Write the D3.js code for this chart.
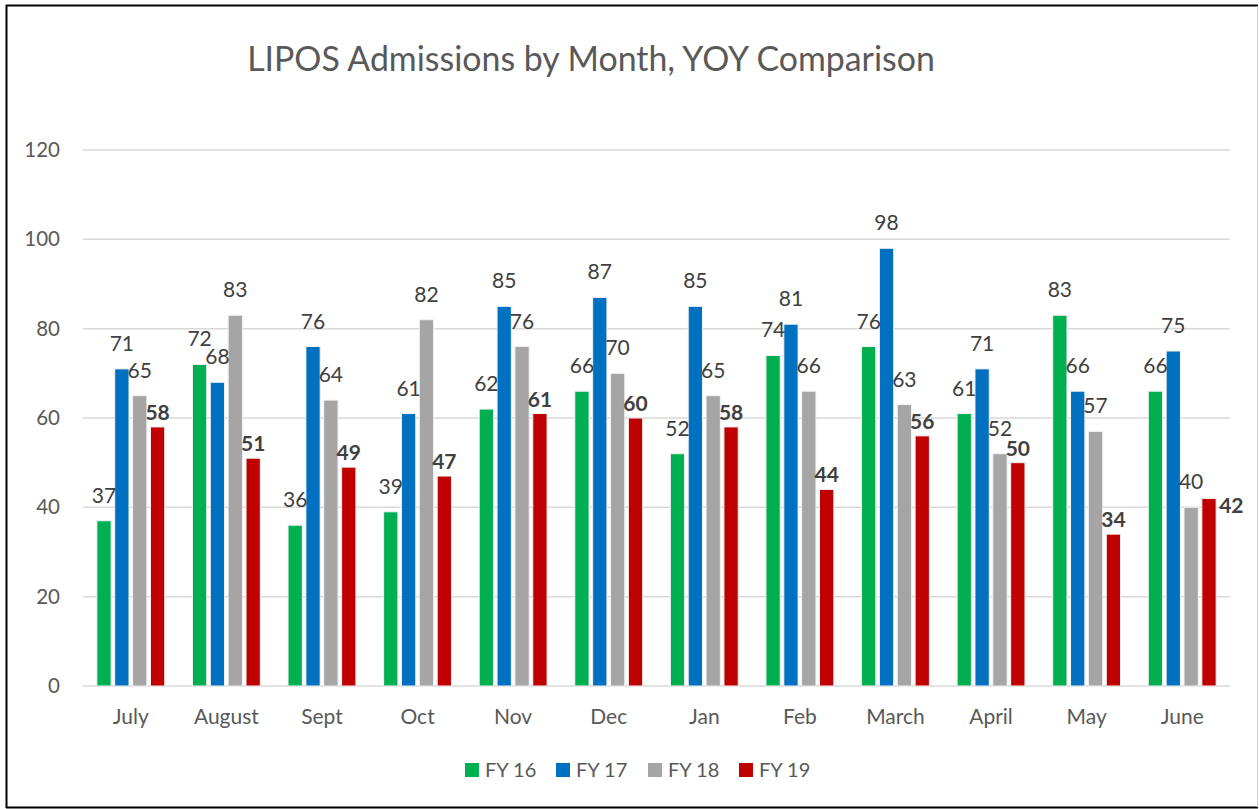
<!DOCTYPE html>
<html>
<head>
<meta charset="utf-8">
<script src="https://cdn.jsdelivr.net/npm/d3@7"></script>
<style>
  html, body { margin: 0; padding: 0; background: #fff; }
  svg { display: block; font-family: Lato, "Open Sans", sans-serif; }
</style>
</head>
<body>
<div id="chart"></div>
<script>
const months = ['July', 'August', 'Sept', 'Oct', 'Nov', 'Dec', 'Jan', 'Feb', 'March', 'April', 'May', 'June'];
const seriesNames = ['FY 16', 'FY 17', 'FY 18', 'FY 19'];
const fy16 = [37, 72, 36, 39, 62, 66, 52, 74, 76, 61, 83, 66];
const fy17 = [71, 68, 76, 61, 85, 87, 85, 81, 98, 71, 66, 75];
const fy18 = [65, 83, 64, 82, 76, 70, 65, 66, 63, 52, 57, 40];
const fy19 = [58, 51, 49, 47, 61, 60, 58, 44, 56, 50, 34, 42];
const yTicks = [0, 20, 40, 60, 80, 100, 120];
const colors = ['#00B050', '#0070C0', '#A5A5A5', '#C00000'];

const W = 1259, H = 809;
const plot = { left: 83, right: 1230, top: 150, bottom: 686 };

const svg = d3.select('#chart').append('svg')
  .attr('width', W)
  .attr('height', H);

// frame
svg.append('rect').attr('width', W).attr('height', H).attr('fill', '#fff');
svg.append('line').attr('x1', 6.5).attr('x2', 6.5).attr('y1', 5).attr('y2', 808).attr('stroke', '#000').attr('stroke-width', 2);
svg.append('line').attr('x1', 6).attr('x2', 1258).attr('y1', 5.5).attr('y2', 5.5).attr('stroke', '#000').attr('stroke-width', 2);
svg.append('line').attr('x1', 6).attr('x2', 1258).attr('y1', 807.5).attr('y2', 807.5).attr('stroke', '#000').attr('stroke-width', 2);
svg.append('line').attr('x1', 1257.5).attr('x2', 1257.5).attr('y1', 6).attr('y2', 807).attr('stroke', '#d0d0d0').attr('stroke-width', 1);

// title
const title = svg.append('text')
  .attr('x', 591)
  .attr('y', 71)
  .attr('text-anchor', 'middle')
  .attr('fill', '#595959')
  .attr('font-size', 32)
  .text('LIPOS Admissions by Month, YOY Comparison');
const tw = title.node().getComputedTextLength();
title.attr('font-size', 32 * 688 / tw);

const y = d3.scaleLinear().domain([0, 120]).range([plot.bottom, plot.top]);
const x0 = d3.scaleBand().domain(months).range([plot.left, plot.right]).paddingInner(0).paddingOuter(0);
const groupW = x0.bandwidth() * 0.71;
const x1 = d3.scaleBand().domain(seriesNames).range([0, groupW]).paddingInner(0.2);

// gridlines
svg.append('g')
  .selectAll('line')
  .data(yTicks)
  .join('line')
  .attr('x1', plot.left)
  .attr('x2', plot.right)
  .attr('y1', d => y(d))
  .attr('y2', d => y(d))
  .attr('stroke', '#d9d9d9')
  .attr('stroke-width', 1.5);

// y axis labels
const yAxis = svg.append('g')
  .attr('transform', `translate(${plot.left},0)`)
  .call(d3.axisLeft(y).tickValues(yTicks).tickSize(0).tickPadding(23));
yAxis.select('.domain').remove();
yAxis.selectAll('text')
  .attr('fill', '#595959')
  .attr('font-size', 20.5)
  .attr('font-family', 'Lato, "Open Sans", sans-serif');

// x axis labels
const xAxis = svg.append('g')
  .attr('transform', `translate(0,${plot.bottom})`)
  .call(d3.axisBottom(x0).tickSize(0).tickPadding(23));
xAxis.select('.domain').remove();
xAxis.selectAll('text')
  .attr('fill', '#595959')
  .attr('font-size', 21)
  .attr('font-family', 'Lato, "Open Sans", sans-serif');

const series = [fy16, fy17, fy18, fy19];
const rows = [];
series.forEach((vals, si) => {
  vals.forEach((v, mi) => rows.push({ month: months[mi], name: seriesNames[si], si, mi, v }));
});

const offset = (x0.bandwidth() - groupW) / 2;

// bars
svg.append('g')
  .selectAll('rect')
  .data(rows)
  .join('rect')
  .attr('x', d => x0(d.month) + offset + x1(d.name))
  .attr('y', d => y(d.v))
  .attr('width', x1.bandwidth())
  .attr('height', d => y(0) - y(d.v))
  .attr('fill', d => colors[d.si])
  .attr('stroke', '#f2f2f2')
  .attr('stroke-width', 1);

// data labels
svg.append('g')
  .selectAll('text')
  .data(rows)
  .join('text')
  .attr('x', d => {
    const cx = x0(d.month) + offset + x1(d.name) + x1.bandwidth() / 2;
    // last label sits beside the bar
    if (d.si === 3 && d.mi === months.length - 1) return cx + x1.bandwidth() / 2 + 3;
    return cx;
  })
  .attr('y', d => {
    if (d.si === 3 && d.mi === months.length - 1) return y(d.v) + 15;
    return y(d.v) - (d.si === 3 ? 7 : 18);
  })
  .attr('text-anchor', d => (d.si === 3 && d.mi === months.length - 1) ? 'start' : 'middle')
  .attr('fill', '#404040')
  .attr('font-size', 21)
  .attr('font-weight', d => d.si === 3 ? 'bold' : 'normal')
  .text(d => d.v);

// legend
const legendX = [465, 556, 648, 739];
const legend = svg.append('g')
  .selectAll('g')
  .data(seriesNames)
  .join('g')
  .attr('transform', (d, i) => `translate(${legendX[i]},763)`);
legend.append('rect')
  .attr('width', 14)
  .attr('height', 14)
  .attr('fill', (d, i) => colors[i]);
legend.append('text')
  .attr('x', 20)
  .attr('y', 14)
  .attr('fill', '#595959')
  .attr('font-size', 20)
  .text(d => d);
</script>
</body>
</html>
